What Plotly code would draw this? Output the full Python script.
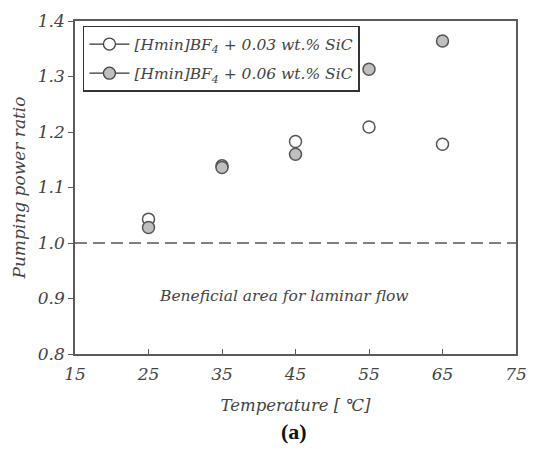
import plotly.graph_objects as go

temperature = [25, 35, 45, 55, 65]
ratio_003 = [1.043, 1.139, 1.183, 1.209, 1.178]
ratio_006 = [1.028, 1.136, 1.160, 1.313, 1.364]
series_names = ["[Hmin]BF<sub>4</sub> + 0.03 wt.% SiC", "[Hmin]BF<sub>4</sub> + 0.06 wt.% SiC"]
x_ticks = [15, 25, 35, 45, 55, 65, 75]
y_ticks = [0.8, 0.9, 1.0, 1.1, 1.2, 1.3, 1.4]

FONT = "DejaVu Serif"
TXT = "#444444"
AX = "#5a5a5a"

fig = go.Figure()
fills = ["white", "#bfbfbf"]
for name, ys, fc in zip(series_names, [ratio_003, ratio_006], fills):
    fig.add_trace(go.Scatter(x=temperature, y=ys, mode="markers", showlegend=False,
                             marker=dict(size=12, color=fc, line=dict(color="#555555", width=1.5))))
for i, (name, fc) in enumerate(zip(series_names, fills)):
    fig.add_trace(go.Scatter(x=[None], y=[None], mode="lines+markers", name=name,
                             legendgroup=f"g{i}",
                             line=dict(color="#333333", width=1.3),
                             marker=dict(size=12, color=fc, line=dict(color="#444444", width=1.3))))

fig.add_shape(type="line", x0=15, x1=75, y0=1.0, y1=1.0, xref="x", yref="y",
              line=dict(color="#555555", width=1.5, dash="12px,6px"))

fig.add_annotation(x=43.5, y=0.904, xref="x", yref="y", text="Beneficial area for laminar flow",
                   showarrow=False, font=dict(family=FONT, size=15.5, color=TXT, style="italic"))
fig.add_annotation(x=0.496, y=-0.275, xref="paper", yref="paper", text="<b>(a)</b>",
                   showarrow=False, font=dict(family="Liberation Serif", size=22, color="#111111"))

fig.update_layout(
    width=538, height=457,
    margin=dict(l=75, r=11, t=13, b=103),
    paper_bgcolor="white", plot_bgcolor="white",
    font=dict(family=FONT, color=TXT),
    legend=dict(x=0.018, y=0.985, xanchor="left", yanchor="top",
                bordercolor="#333333", borderwidth=1.5, bgcolor="white",
                font=dict(family=FONT, size=15.5, color=TXT, style="italic"),
                tracegroupgap=6, itemwidth=40),
    xaxis=dict(range=[15, 75], tickvals=x_ticks, ticks="inside", ticklen=5, tickcolor=AX,
               showline=True, linecolor=AX, linewidth=1.5, mirror=True, showgrid=False, zeroline=False,
               ticklabelstandoff=4,
               tickfont=dict(family=FONT, size=17, color=TXT, style="italic"),
               title=dict(text="Temperature [ ℃]", standoff=16,
                          font=dict(family=FONT, size=16.5, color=TXT, style="italic"))),
    yaxis=dict(range=[0.8, 1.4], tickvals=y_ticks, tickformat=".1f", ticks="outside", ticklen=5, tickcolor=AX,
               showline=True, linecolor=AX, linewidth=1.5, mirror=True, showgrid=False, zeroline=False,
               tickfont=dict(family=FONT, size=17, color=TXT, style="italic"),
               title=dict(text="Pumping power ratio", standoff=8,
                          font=dict(family=FONT, size=17, color=TXT, style="italic"))),
)

fig.write_html("out.html")
